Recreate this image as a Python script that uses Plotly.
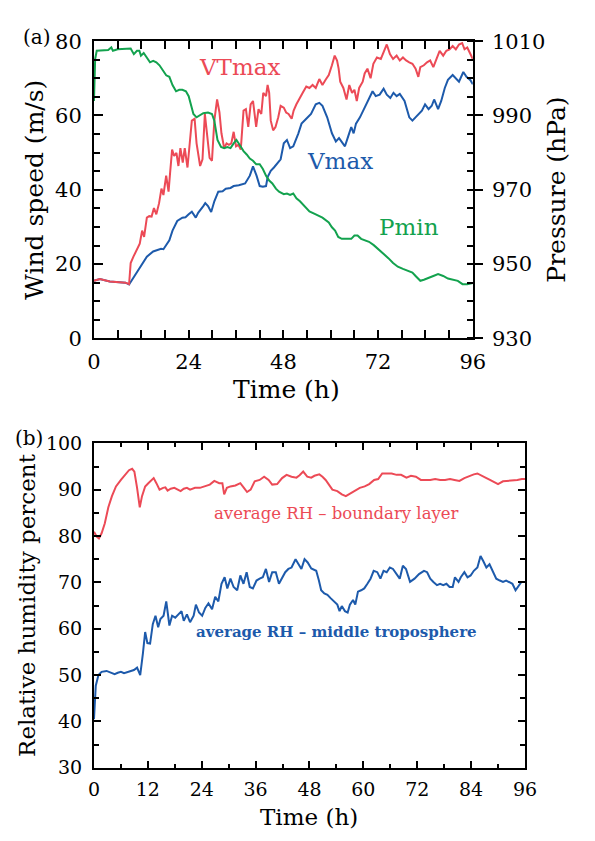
import plotly.graph_objects as go

# ---------------- Panel (a) data ----------------
vmax_t = [0, 1.5, 4, 6, 8, 8.9, 13.4, 15, 17, 17.6, 19.1, 19.9, 21.1, 22.4, 23.2, 24, 24.8, 25.8, 26.4, 27.7,
          28.2, 28.9, 29.7, 30.5, 31.5, 32.6, 33.4, 34.6, 35.4, 36.7, 37.5, 38.3, 39.5, 40.3, 41.2, 42, 42.8,
          43.6, 44, 44.8, 45.6, 46.4, 47.3, 48.1, 48.9, 49.7, 50.5, 51.8, 52.6, 53.8, 55, 56.2, 57.1, 57.9,
          59.1, 60.3, 61.3, 62.1, 62.8, 63.6, 64.4, 65.2, 65.8, 66.4, 67.4, 68.6, 69.8, 70.6, 71.4, 72.4,
          73.4, 74.2, 75.1, 75.9, 76.7, 77.5, 78.7, 79.9, 80.7, 81.5, 82.3, 83.1, 83.9, 84.8, 85.6, 86.2,
          87.2, 88, 88.9, 89.7, 90.9, 91.7, 92.5, 93.6, 94.4, 95.4, 96]
vmax_v = [15.5, 16.0, 15.3, 15.2, 15.0, 14.5, 22.0, 23.4, 24.1, 24.0, 26.4, 29.0, 31.6, 32.5, 32.6, 33.4, 34.1,
          32.5, 33.8, 35.6, 36.4, 35.6, 34.0, 36.9, 39.5, 39.6, 40.3, 40.5, 41.0, 41.2, 41.4, 41.7, 43.8,
          46.3, 43.8, 41.0, 40.8, 41.0, 43.4, 45.1, 46.0, 46.9, 48.2, 52.5, 53.4, 51.2, 51.7, 55.2, 57.8,
          59.1, 60.4, 63.0, 63.4, 62.6, 59.5, 55.2, 53.0, 53.9, 53.0, 51.7, 54.3, 56.9, 55.2, 57.8, 59.5,
          62.1, 64.7, 66.5, 65.2, 65.6, 67.2, 65.6, 64.7, 66.1, 65.2, 65.8, 63.9, 59.5, 58.6, 59.5, 60.4,
          61.3, 63.0, 61.7, 62.6, 64.3, 61.7, 63.9, 67.4, 69.6, 70.9, 70.0, 69.1, 71.7, 70.4, 69.5, 68.4]

vtmax_t = [0, 1.5, 4, 6, 8, 8.9, 9.3, 10, 10.9, 11.6, 12.2, 12.7, 13.4, 14, 14.6, 15.2, 15.8, 16.5, 17.1, 17.6,
           18.3, 18.9, 19.3, 19.8, 20.3, 20.9, 21.4, 21.9, 22.5, 23, 23.7, 24.2, 24.8, 25.5, 26, 26.9, 27.5,
           28.1, 28.7, 29.3, 29.9, 30.5, 31.2, 31.8, 32.3, 33, 33.6, 34.2, 34.8, 35.4, 36, 36.6, 37.2, 37.9,
           38.5, 39.1, 39.7, 40.3, 40.7, 41.1, 41.7, 42.4, 42.9, 43.6, 44, 44.4, 44.8, 45.4, 46, 46.7, 47.3,
           48.1, 48.7, 49.3, 50.1, 50.6, 51.3, 52.1, 52.9, 53.8, 54.6, 55.4, 56.2, 57.1, 57.9, 58.7, 59.5,
           60.3, 61, 61.6, 62, 62.4, 63.2, 64, 64.7, 65.4, 66, 66.6, 67.2, 68.1, 68.6, 69.3, 70.1, 70.8,
           71.7, 72.7, 73.4, 74.2, 75, 75.8, 76.7, 77.5, 78.3, 79.1, 79.9, 80.7, 81.5, 82.2, 82.7, 83.6,
           84.4, 85.2, 86, 86.8, 87.6, 88.5, 89.3, 90.1, 90.9, 91.7, 92.5, 93.3, 93.9, 94.6, 95.2, 96]
vtmax_v = [15.5, 16.0, 15.3, 15.2, 15.0, 14.6, 20.3, 22.0, 23.8, 25.5, 29.0, 27.3, 32.5, 32.9, 32.8, 35.1, 33.4,
           36.4, 40.3, 38.6, 43.8, 39.5, 44.7, 50.8, 49.1, 49.9, 46.4, 51.2, 47.3, 51.2, 46.0, 51.7, 58.6,
           59.1, 52.5, 46.4, 48.2, 60.4, 55.2, 48.6, 47.8, 58.6, 64.3, 60.8, 55.2, 51.2, 52.5, 52.1, 52.5,
           55.6, 51.7, 52.1, 50.8, 61.3, 61.7, 56.9, 63.0, 63.9, 60.4, 56.9, 61.7, 60.4, 66.1, 65.2, 68.2,
           66.1, 58.6, 56.0, 56.9, 59.5, 62.6, 62.1, 60.8, 60.4, 59.1, 61.3, 63.0, 64.7, 66.1, 67.8, 67.4,
           68.2, 67.4, 69.8, 68.2, 69.6, 70.9, 73.5, 76.1, 74.8, 72.6, 69.1, 67.4, 64.3, 68.2, 66.1, 66.9,
           63.9, 67.4, 69.1, 71.3, 72.6, 70.0, 73.9, 75.6, 75.2, 76.9, 79.1, 76.5, 75.2, 76.1, 74.8, 75.6,
           74.8, 74.3, 73.9, 72.6, 70.4, 73.0, 73.5, 74.3, 74.8, 73.0, 75.2, 77.4, 76.1, 77.4, 77.8, 78.7,
           77.8, 79.1, 79.5, 77.8, 78.3, 77.0, 75.2]

pmin_t = [0, 0.3, 0.7, 2, 3.6, 4.4, 4.8, 6, 7.7, 9.3, 10.1, 10.9, 11.5, 11.9, 12.6, 13.4, 14.2, 15, 15.8, 16.6,
          17.5, 18.3, 19.1, 19.9, 20.8, 21.6, 22.4, 23.3, 24, 24.6, 25.2, 26, 26.9, 27.7, 28.9, 29.9, 30.5,
          31.3, 32.2, 33, 33.8, 34.6, 35.4, 36.1, 36.9, 37.9, 38.7, 39.5, 40.3, 41.1, 42, 42.8, 43.6, 44.4,
          45.2, 46.1, 46.9, 48.1, 48.9, 49.7, 50.5, 51.3, 52.2, 53.4, 54.6, 56.2, 57.9, 59.5, 60.3, 61.1,
          61.9, 62.8, 63.6, 64.4, 65.2, 66, 66.8, 67.7, 68.5, 69.7, 70.9, 72.1, 73.4, 74.6, 75.8, 77, 78.3,
          79.5, 80.7, 81.5, 82.7, 83.6, 84.8, 86, 87.2, 88.5, 89.7, 90.9, 92.2, 93.4, 94.6, 96]
pmin_p = [993.9, 1005.2, 1007.4, 1007.4, 1007.6, 1008.3, 1007.4, 1007.8, 1008.0, 1008.0, 1006.5, 1007.4,
          1007.4, 1006.1, 1006.8, 1005.6, 1004.3, 1004.7, 1004.3, 1003.5, 1002.2, 1000.8, 1000.4, 998.2,
          996.5, 996.9, 996.9, 996.5, 995.2, 992.6, 990.4, 989.5, 990.0, 990.6, 990.8, 990.4, 988.6, 983.4,
          981.5, 981.2, 981.5, 981.2, 982.5, 983.4, 982.1, 980.4, 979.5, 978.4, 977.8, 976.9, 976.9, 975.6,
          973.8, 972.5, 971.7, 970.3, 969.5, 968.8, 969.0, 968.6, 969.0, 967.7, 966.9, 965.6, 964.2, 963.4,
          962.5, 961.2, 959.9, 959.0, 957.3, 956.8, 956.8, 956.6, 956.8, 957.7, 957.7, 956.8, 956.4, 956.0,
          955.1, 954.0, 952.9, 951.6, 950.3, 949.3, 948.7, 948.1, 947.7, 946.8, 945.5, 945.8, 946.4, 946.8,
          947.3, 946.8, 946.1, 945.8, 945.5, 944.6, 944.6, 944.9]

# ---------------- Panel (b) data ----------------
rhbl_t = [0, 0.6, 1.1, 1.7, 2.4, 3.2, 4, 4.9, 6, 7.1, 7.8, 8.5, 9, 9.6, 10.2, 10.7, 11.4, 12.1, 12.8, 13.3, 13.9,
          14.6, 15.4, 15.9, 16.4, 17.1, 17.9, 18.6, 19.3, 20, 20.7, 21.4, 22.5, 23.6, 24.7, 25.8, 26.8, 27.9,
          28.6, 29, 29.6, 30.4, 31.5, 32.6, 33.4, 34.1, 34.9, 35.8, 36.9, 37.9, 38.9, 39.7, 40.8, 41.9, 42.9,
          44, 45.1, 45.8, 46.6, 47.5, 48.4, 49.1, 50.2, 50.9, 51.6, 52.4, 53.1, 54.2, 55.2, 56.1, 57.0, 58.1,
          59.2, 60.3, 61.3, 62.4, 63.3, 64.2, 65.3, 66.3, 67.4, 68.4, 69.6, 70.6, 71.7, 72.8, 73.9, 74.9,
          76.0, 77.1, 78.2, 79.3, 80.3, 81.4, 82.5, 83.6, 84.6, 85.4, 86.1, 87.2, 88.2, 88.9, 90, 91.1, 92.2,
          93.2, 94.3, 95.3, 96]
rhbl_v = [80.9, 79.9, 79.5, 80.6, 82.7, 86.2, 88.6, 90.7, 92.1, 93.5, 94.2, 94.5, 93.9, 90.4, 86.2, 88.6, 90.7,
          91.4, 92.1, 92.5, 91.4, 90.0, 90.4, 90.5, 89.8, 90.2, 90.4, 90.0, 89.7, 90.2, 90.4, 90.0, 90.4,
          90.4, 90.7, 91.1, 91.9, 91.4, 91.4, 89.0, 90.4, 90.7, 90.9, 91.4, 90.4, 89.5, 90.0, 91.8, 92.1,
          92.8, 92.1, 91.1, 91.2, 92.5, 93.2, 92.8, 92.6, 93.1, 93.9, 92.8, 92.6, 93.0, 93.3, 92.8, 92.1,
          91.1, 90.0, 89.7, 89.0, 88.6, 89.1, 89.8, 90.4, 90.7, 91.2, 92.1, 92.3, 93.5, 93.5, 93.5, 93.2,
          93.2, 92.6, 93.0, 92.8, 92.1, 92.1, 92.1, 92.3, 92.1, 92.1, 92.3, 92.1, 91.9, 92.5, 93.0, 93.3,
          93.5, 93.2, 92.6, 92.1, 91.8, 91.2, 91.8, 91.9, 91.9, 92.1, 92.3, 92.3]

rhmt_t = [0, 0.4, 1, 1.7, 2.8, 3.9, 4.6, 5.3, 6, 6.7, 7.8, 8.9, 9.6, 10.3, 10.9, 11.4, 11.9, 12.5, 13.1, 13.7,
          14.3, 14.8, 15.5, 16.1, 16.8, 17.4, 18.1, 18.8, 19.5, 20, 20.7, 21.4, 22.2, 22.7, 23.4, 24.1, 24.8,
          25.5, 26.3, 27.0, 27.7, 28.4, 29.1, 29.7, 30.4, 31.1, 31.9, 32.6, 33.3, 34, 34.7, 35.4, 36.2, 36.9,
          37.6, 38.3, 39, 39.7, 40.5, 41.2, 41.9, 42.6, 43.3, 44, 44.9, 45.5, 46.2, 46.9, 47.6, 48.4, 49.5,
          50.1, 50.6, 51.3, 52, 52.7, 53.4, 54.2, 54.7, 55.2, 55.9, 56.5, 57.0, 57.7, 58.2, 58.8, 59.5, 60.2,
          60.9, 61.6, 62.3, 63.1, 63.8, 64.5, 65.2, 65.9, 66.6, 67.4, 68.1, 68.8, 69.5, 70.4, 71.4, 72.4,
          73.5, 74.2, 74.9, 75.6, 76.4, 77.1, 77.8, 78.5, 79.2, 79.9, 80.4, 81.2, 81.7, 82.5, 83.2, 83.9,
          84.6, 85.4, 86.1, 86.7, 87.4, 88.1, 88.8, 89.6, 90.4, 91.1, 91.8, 92.5, 93.2, 93.9, 94.6, 95.2, 96]
rhmt_v = [40.5, 47.7, 50.0, 50.7, 50.9, 50.5, 50.2, 50.5, 50.7, 50.4, 50.7, 51.1, 51.6, 50.0, 54.7, 59.3, 56.9,
          56.8, 61.0, 62.8, 60.3, 62.1, 62.8, 65.9, 60.7, 62.8, 62.4, 63.1, 63.8, 61.7, 63.1, 61.4, 62.8,
          65.2, 63.5, 62.8, 64.5, 65.5, 64.2, 66.9, 65.9, 69.7, 71.1, 68.7, 70.8, 69.0, 68.3, 71.5, 69.7,
          72.2, 69.0, 68.7, 70.4, 70.8, 71.1, 72.9, 70.1, 72.2, 72.2, 69.7, 70.8, 72.2, 72.9, 73.2, 75.0,
          73.9, 72.9, 75.0, 74.3, 73.0, 72.5, 70.4, 68.3, 67.6, 67.3, 66.6, 65.9, 65.2, 63.8, 64.9, 63.8,
          63.5, 65.2, 66.2, 65.2, 68.0, 68.3, 68.7, 69.7, 70.8, 72.5, 72.2, 70.8, 72.5, 72.2, 73.2, 72.9,
          71.8, 70.8, 73.6, 72.9, 70.1, 70.8, 71.8, 72.5, 72.2, 70.8, 70.1, 69.4, 69.7, 69.4, 69.7, 69.0,
          69.0, 71.1, 70.1, 71.1, 72.2, 71.1, 71.5, 72.5, 73.2, 75.7, 74.6, 73.2, 73.9, 72.5, 70.8, 70.4,
          70.1, 70.4, 70.1, 69.7, 68.3, 69.4, 70.1, 70.1]

# ---------------- styling ----------------
RED = "#EC4A56"
BLUE = "#1D5AAB"
GREEN = "#13A24E"
FONT = "DejaVu Serif"
W, H = 595, 841


def px(x):
    return x / W


def py(y):
    return 1 - y / H


fig = go.Figure()
fig.add_trace(go.Scatter(x=pmin_t, y=pmin_p, mode="lines", line=dict(color=GREEN, width=2),
                         xaxis="x", yaxis="y2", name="Pmin"))
fig.add_trace(go.Scatter(x=vmax_t, y=vmax_v, mode="lines", line=dict(color=BLUE, width=2),
                         xaxis="x", yaxis="y", name="Vmax"))
fig.add_trace(go.Scatter(x=vtmax_t, y=vtmax_v, mode="lines", line=dict(color=RED, width=2),
                         xaxis="x", yaxis="y", name="VTmax"))
fig.add_trace(go.Scatter(x=rhbl_t, y=rhbl_v, mode="lines", line=dict(color=RED, width=2),
                         xaxis="x2", yaxis="y3", name="RH boundary layer"))
fig.add_trace(go.Scatter(x=rhmt_t, y=rhmt_v, mode="lines", line=dict(color=BLUE, width=2),
                         xaxis="x2", yaxis="y3", name="RH middle troposphere"))

axis_common = dict(showline=True, linecolor="black", linewidth=2, showgrid=False, zeroline=False,
                   ticks="inside", tickcolor="black", tickwidth=1.5)

fa = dict(family=FONT, size=21, color="black")
fb = dict(family=FONT, size=19, color="black")

fig.update_layout(
    width=W, height=H, autosize=False, showlegend=False,
    margin=dict(l=0, r=0, t=0, b=0),
    paper_bgcolor="white", plot_bgcolor="white",
    xaxis=dict(**axis_common, domain=[px(90), px(482)], anchor="y", range=[0, 96],
               tickvals=[0, 24, 48, 72, 96], ticklen=8, mirror="allticks",
               minor=dict(dtick=6, tick0=0, ticks="inside", ticklen=5, tickcolor="black", tickwidth=1.5),
               tickfont=fa, ticklabelstandoff=3),
    yaxis=dict(**axis_common, domain=[py(336), py(30)], anchor="x", range=[0, 80],
               tickvals=[0, 20, 40, 60, 80], ticklen=9,
               minor=dict(dtick=5, tick0=0, ticks="inside", ticklen=6, tickcolor="black", tickwidth=1.5),
               tickfont=fa, ticklabelstandoff=6),
    yaxis2=dict(showline=True, linecolor="black", linewidth=2, showgrid=False, zeroline=False,
                overlaying="y", anchor="x", side="right", range=[930, 1010],
                tickvals=[930, 950, 970, 990, 1010], ticks="outside", ticklen=8, tickcolor="black",
                tickwidth=1.5,
                minor=dict(dtick=5, tick0=930, ticks="inside", ticklen=6, tickcolor="black", tickwidth=1.5),
                tickfont=fa, ticklabelstandoff=5),
    xaxis2=dict(**axis_common, domain=[px(90), px(536)], anchor="y3", range=[0, 96],
                tickvals=list(range(0, 97, 12)), ticklen=7, mirror="allticks",
                minor=dict(dtick=6, tick0=0, ticks="inside", ticklen=4, tickcolor="black", tickwidth=1.5),
                tickfont=fb, ticklabelstandoff=3),
    yaxis3=dict(**axis_common, domain=[py(778), py(444)], anchor="x2", range=[30, 100],
                tickvals=list(range(30, 101, 10)), ticklen=7, mirror="allticks",
                minor=dict(dtick=5, tick0=30, ticks="inside", ticklen=5, tickcolor="black", tickwidth=1.5),
                tickfont=fb, ticklabelstandoff=6),
)

annotations = [
    dict(text="(a)", x=px(31), y=py(26), font=dict(family=FONT, size=20, color="black")),
    dict(text="(b)", x=px(23), y=py(439), font=dict(family=FONT, size=20, color="black")),
    dict(text="VTmax", x=px(241), y=py(57), font=dict(family=FONT, size=23, color=RED)),
    dict(text="Vmax", x=px(345), y=py(153), font=dict(family=FONT, size=23, color=BLUE)),
    dict(text="Pmin", x=px(416), y=py(221), font=dict(family=FONT, size=23, color=GREEN)),
    dict(text="Wind speed (m/s)", x=px(29), y=py(183), textangle=-90,
         font=dict(family=FONT, size=25, color="black")),
    dict(text="Pressure (hPa)", x=px(569), y=py(183), textangle=-90,
         font=dict(family=FONT, size=25, color="black")),
    dict(text="Time (h)", x=px(289), y=py(389), font=dict(family=FONT, size=25, color="black")),
    dict(text="average RH \u2013 boundary layer", x=px(341), y=py(516),
         font=dict(family=FONT, size=16.5, color=RED)),
    dict(text="<b>average RH \u2013 middle troposphere</b>", x=px(341), y=py(638),
         font=dict(family=FONT, size=15, color=BLUE)),
    dict(text="Relative humidity percent", x=px(20), y=py(610), textangle=-90,
         font=dict(family=FONT, size=23, color="black")),
    dict(text="Time (h)", x=px(313), y=py(829), font=dict(family=FONT, size=23, color="black")),
]
for a in annotations:
    a.update(xref="paper", yref="paper", showarrow=False, xanchor="center", yanchor="middle")
fig.update_layout(annotations=annotations)

post = ("document.documentElement.style.margin='0';document.body.style.margin='0';"
        "document.body.style.padding='0';document.documentElement.style.overflow='hidden';"
        "document.body.style.overflow='hidden';")
fig.write_html("out.html", post_script=post)
